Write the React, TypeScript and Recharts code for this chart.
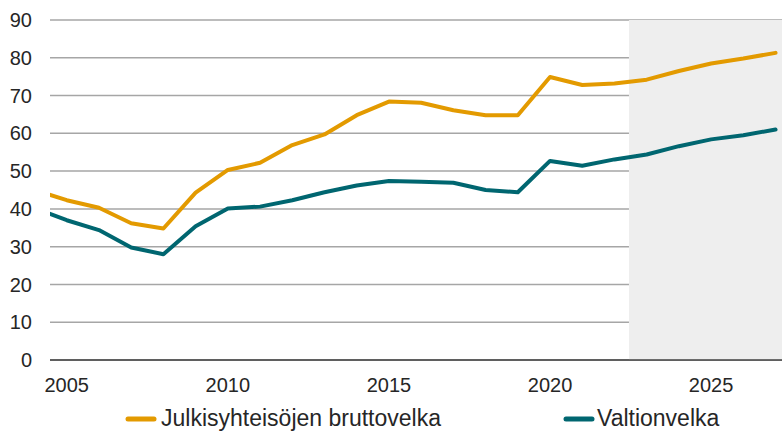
import React from 'react';
import { LineChart, Line, XAxis, YAxis, CartesianGrid, ReferenceArea, Legend } from 'recharts';

const years = [2004, 2005, 2006, 2007, 2008, 2009, 2010, 2011, 2012, 2013, 2014, 2015, 2016, 2017, 2018, 2019, 2020, 2021, 2022, 2023, 2024, 2025, 2026, 2027];
const grossDebt = [45.0, 42.3, 40.3, 36.2, 34.8, 44.3, 50.3, 52.2, 56.9, 59.7, 64.8, 68.4, 68.1, 66.1, 64.8, 64.8, 74.9, 72.8, 73.2, 74.2, 76.5, 78.5, 79.8, 81.3];
const stateDebt = [40.2, 37.0, 34.4, 29.8, 28.0, 35.4, 40.1, 40.6, 42.3, 44.4, 46.2, 47.4, 47.2, 46.9, 45.0, 44.4, 52.7, 51.4, 53.1, 54.4, 56.6, 58.4, 59.5, 61.0];
const xTicks = [2005, 2010, 2015, 2020, 2025];
const yTicks = [0, 10, 20, 30, 40, 50, 60, 70, 80, 90];
const seriesNames = ['Julkisyhteisöjen bruttovelka', 'Valtionvelka'];
const forecastStart = 2022.45;
const forecastEnd = 2027.2;

const ORANGE = '#e39a00';
const TEAL = '#006670';
const FONT = '"Liberation Sans", Arial, sans-serif';

const data = years.map((y, i) => ({ year: y, gross: grossDebt[i], state: stateDebt[i] }));

const LegendContent = () => (
  <svg width={782} height={42} style={{ display: 'block' }}>
    <line x1={128} x2={154} y1={29} y2={29} stroke={ORANGE} strokeWidth={5} strokeLinecap="round" />
    <text x={161} y={36} fontSize={23} fontFamily={FONT} fill="#262626">{seriesNames[0]}</text>
    <line x1={566} x2={592} y1={29} y2={29} stroke={TEAL} strokeWidth={5} strokeLinecap="round" />
    <text x={597} y={36} fontSize={23} fontFamily={FONT} fill="#262626">{seriesNames[1]}</text>
  </svg>
);

export default function App() {
  return (
    <div style={{ position: 'absolute', left: 0, top: 0, width: 782, height: 432, background: '#fff' }}>
      <LineChart width={782} height={432} data={data} margin={{ top: 20, right: 0, bottom: 0, left: 0 }}>
        <ReferenceArea x1={forecastStart} x2={forecastEnd} y1={0} y2={90} fill="#eeeeee" fillOpacity={1} stroke="none" ifOverflow="hidden" />
        <CartesianGrid vertical={false} stroke="#a6a6a6" strokeWidth={1.5} />
        <XAxis
          dataKey="year"
          type="number"
          domain={[2004.48, forecastEnd]}
          allowDataOverflow
          ticks={xTicks}
          tickLine={false}
          tickSize={0}
          tickMargin={18}
          height={30}
          axisLine={{ stroke: '#404040', strokeWidth: 1.5 }}
          tick={{ fontSize: 20, fontFamily: FONT, fill: '#262626' }}
        />
        <YAxis
          type="number"
          domain={[0, 90]}
          ticks={yTicks}
          width={50}
          axisLine={false}
          tickLine={false}
          tickSize={0}
          tickMargin={18}
          tick={{ fontSize: 20, fontFamily: FONT, fill: '#262626' }}
        />
        <Line dataKey="gross" name={seriesNames[0]} stroke={ORANGE} strokeWidth={4} dot={false} isAnimationActive={false} strokeLinejoin="round" strokeLinecap="round" />
        <Line dataKey="state" name={seriesNames[1]} stroke={TEAL} strokeWidth={4} dot={false} isAnimationActive={false} strokeLinejoin="round" strokeLinecap="round" />
        <Legend
          verticalAlign="bottom"
          content={<LegendContent />}
          wrapperStyle={{ position: 'absolute', left: 0, bottom: 0, width: 782, height: 42 }}
        />
      </LineChart>
    </div>
  );
}
